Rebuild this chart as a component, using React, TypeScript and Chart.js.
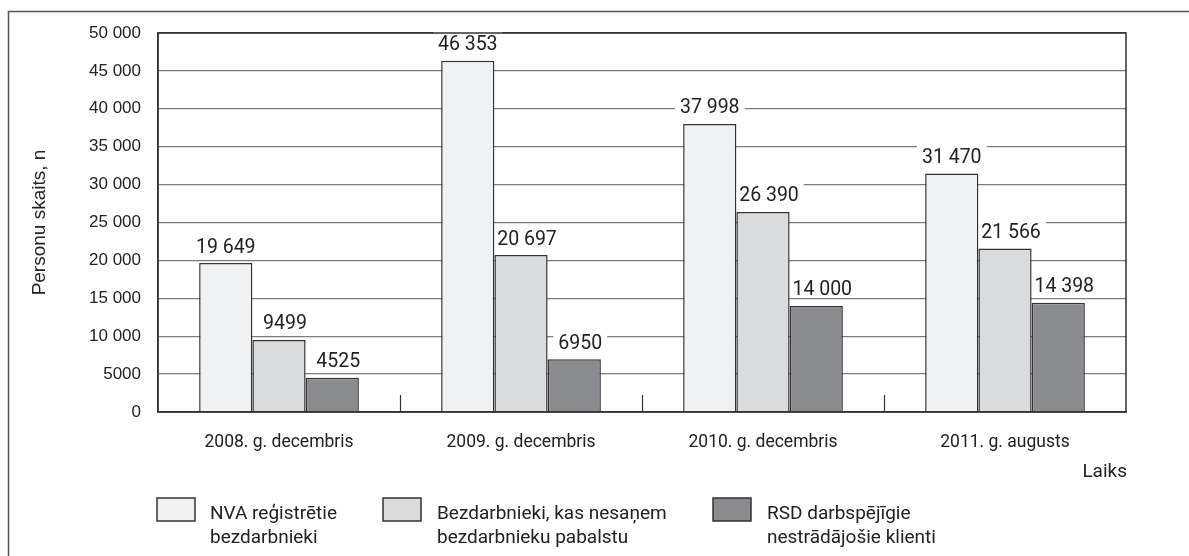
import React, { useEffect, useRef } from "react";
import { Chart, registerables } from "chart.js";

Chart.register(...registerables);

const categories = ["2008. g. decembris", "2009. g. decembris", "2010. g. decembris", "2011. g. augusts"];
const nvaRegistered = [19649, 46353, 37998, 31470];
const withoutBenefit = [9499, 20697, 26390, 21566];
const rsdClients = [4525, 6950, 14000, 14398];
const seriesLegend = [
  ["NVA reģistrētie", "bezdarbnieki"],
  ["Bezdarbnieki, kas nesaņem", "bezdarbnieku pabalstu"],
  ["RSD darbspējīgie", "nestrādājošie klienti"],
];
const seriesColors = ["#f0f1f3", "#dadbdd", "#8a8b8e"];
const yTitle = "Personu skaits, n";
const xTitle = "Laiks";
const yMin = 0;
const yMax = 50000;
const yStep = 5000;

const fmt = (v: number) =>
  v >= 10000 ? String(v).replace(/\B(?=(\d{3})+(?!\d))/g, " ") : String(v);

const TEXT = "#222222";
const EDGE = "#333333";
const ROBOTO = "Roboto, 'Noto Sans', sans-serif";
const LIB = "'Liberation Sans', Arial, sans-serif";
const labelXShift = [0, 6, 6];

const decorPlugin = {
  id: "decor",
  beforeDatasetsDraw(chart: any) {
    const ctx = chart.ctx;
    ctx.save();
    ctx.font = `19.5px ${ROBOTO}`;
    chart.data.datasets.forEach((ds: any, di: number) => {
      const meta = chart.getDatasetMeta(di);
      meta.data.forEach((bar: any, i: number) => {
        const txt = fmt(ds.data[i]);
        const w = ctx.measureText(txt).width;
        const cx = bar.x + labelXShift[di];
        const cy = bar.y - 17.5;
        ctx.fillStyle = "#ffffff";
        ctx.fillRect(cx - w / 2 - 5, cy - 13, w + 10, 21);
      });
    });
    ctx.restore();
  },
  afterDatasetsDraw(chart: any) {
    const ctx = chart.ctx;
    const a = chart.chartArea;
    ctx.save();
    // data labels
    ctx.font = `19.5px ${ROBOTO}`;
    ctx.fillStyle = TEXT;
    ctx.textAlign = "center";
    ctx.textBaseline = "alphabetic";
    chart.data.datasets.forEach((ds: any, di: number) => {
      const meta = chart.getDatasetMeta(di);
      meta.data.forEach((bar: any, i: number) => {
        ctx.fillText(fmt(ds.data[i]), bar.x + labelXShift[di], bar.y - 17.5 + 7);
      });
    });
    // plot border
    ctx.strokeStyle = EDGE;
    ctx.lineWidth = 1.5;
    ctx.strokeRect(a.left, a.top, a.right - a.left, a.bottom - a.top);
    // category separators
    const xs = chart.scales.x;
    ctx.lineWidth = 1.2;
    for (let i = 1; i < categories.length; i++) {
      const x = Math.round((xs.getPixelForTick(i - 1) + xs.getPixelForTick(i)) / 2) + 0.5;
      ctx.beginPath();
      ctx.moveTo(x, a.bottom);
      ctx.lineTo(x, a.bottom - 17);
      ctx.stroke();
    }
    ctx.restore();
  },
  afterDraw(chart: any) {
    const ctx = chart.ctx;
    const a = chart.chartArea;
    ctx.save();
    // outer frame
    ctx.strokeStyle = "#555555";
    ctx.lineWidth = 1.5;
    ctx.beginPath();
    ctx.moveTo(8.5, chart.height);
    ctx.lineTo(8.5, 11.5);
    ctx.lineTo(chart.width, 11.5);
    ctx.stroke();
    // y title
    ctx.fillStyle = TEXT;
    ctx.font = `19px ${LIB}`;
    ctx.textAlign = "center";
    ctx.textBaseline = "middle";
    ctx.translate(40, (a.top + a.bottom) / 2);
    ctx.rotate(-Math.PI / 2);
    ctx.fillText(yTitle, 0, 0);
    ctx.setTransform(1, 0, 0, 1, 0, 0);
    // x title
    ctx.font = `19px ${ROBOTO}`;
    ctx.textAlign = "right";
    ctx.textBaseline = "alphabetic";
    ctx.fillText(xTitle, a.right + 1, 477);
    // legend
    const boxX = [157, 383, 713];
    const textX = [210, 437, 767];
    seriesLegend.forEach((lines, i) => {
      ctx.fillStyle = seriesColors[i];
      ctx.fillRect(boxX[i], 498, 38, 23);
      ctx.strokeStyle = EDGE;
      ctx.lineWidth = 1.5;
      ctx.strokeRect(boxX[i], 498, 38, 23);
      ctx.fillStyle = TEXT;
      ctx.font = `19px ${ROBOTO}`;
      ctx.textAlign = "left";
      lines.forEach((ln, j) => ctx.fillText(ln, textX[i], 519 + j * 24));
    });
    ctx.restore();
  },
};

export default function App() {
  const ref = useRef<HTMLCanvasElement | null>(null);
  useEffect(() => {
    if (!ref.current) return;
    const seriesData = [nvaRegistered, withoutBenefit, rsdClients];
    const chart = new Chart(ref.current, {
      type: "bar",
      data: {
        labels: categories,
        datasets: seriesData.map((d, i) => ({
          label: seriesLegend[i].join(" "),
          data: d,
          backgroundColor: seriesColors[i],
          borderColor: EDGE,
          borderWidth: 1.5,
          categoryPercentage: 0.66,
          barPercentage: 1,
        })),
      },
      options: {
        animation: false,
        responsive: false,
        layout: { padding: { left: 0, top: 33, right: 63, bottom: 0 } },
        plugins: { legend: { display: false }, tooltip: { enabled: false }, title: { display: false } },
        scales: {
          x: {
            grid: { display: false },
            border: { color: EDGE, width: 1.5 },
            ticks: { color: TEXT, font: { family: ROBOTO, size: 17.5 }, padding: 12 },
            afterFit: (s: any) => {
              s.height = 144;
            },
          },
          y: {
            min: yMin,
            max: yMax,
            grid: {
              color: (c: any) => (c.tick && c.tick.value === yMax ? EDGE : "#7d7d7d"),
              lineWidth: 1.3,
              drawTicks: false,
            },
            border: { color: EDGE, width: 1.5 },
            ticks: {
              stepSize: yStep,
              color: TEXT,
              font: { family: LIB, size: 17 },
              padding: 17,
              callback: (v: any) => fmt(Number(v)),
            },
            afterFit: (s: any) => {
              s.width = 158;
            },
          },
        },
      },
      plugins: [decorPlugin],
    });
    return () => chart.destroy();
  }, []);
  return (
    <div style={{ position: "absolute", left: 0, top: 0, width: 1189, height: 556, background: "#fff" }}>
      <canvas ref={ref} width={1189} height={556} style={{ width: 1189, height: 556, display: "block" }} />
    </div>
  );
}
